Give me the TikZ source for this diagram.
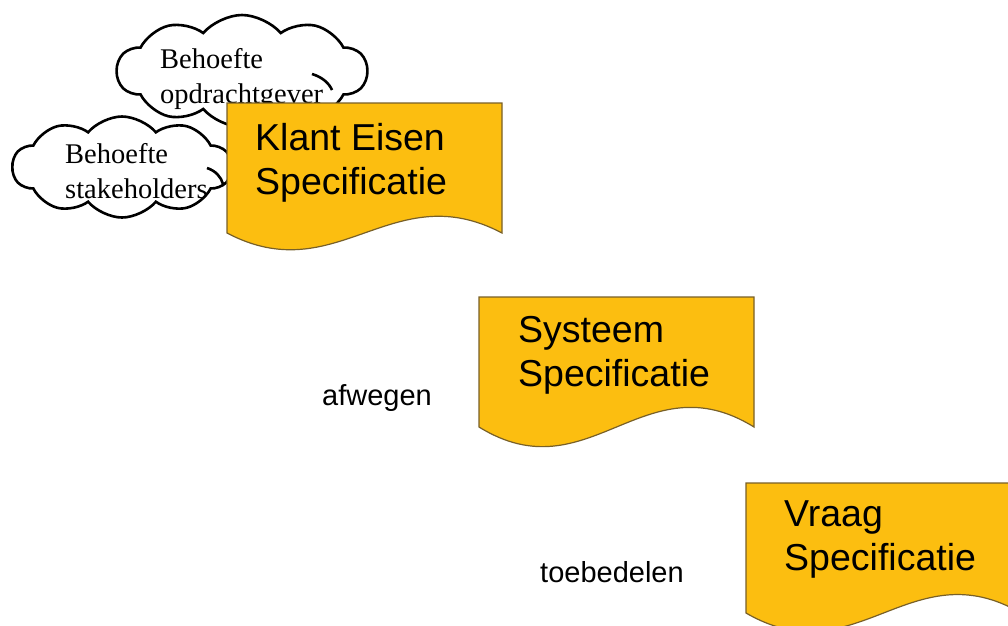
\documentclass[tikz,border=0pt]{standalone}
\usepackage{fontspec}
\usepackage{tikz}
\usetikzlibrary{shapes.symbols}
\newfontfamily\arialfont{Liberation Sans}
\newfontfamily\timesfont{Liberation Serif}
\definecolor{geel}{RGB}{252,190,16}
\definecolor{rand}{RGB}{120,96,40}

\begin{document}
\begin{tikzpicture}[x=1pt, y=-1pt,
	wolk/.style={cloud, cloud puffs=10, cloud puff arc=100, cloud ignores aspect, draw=black, line width=2.6pt, fill=white, inner sep=0pt},
	wolktekst/.style={font=\timesfont\fontsize{28.5}{35}\selectfont, align=left, inner sep=0pt, anchor=north west, text=black},
	blad/.style={draw=rand, line width=1.2pt, fill=geel},
	bladtekst/.style={font=\arialfont\fontsize{37.5}{44}\selectfont, align=left, inner sep=0pt, anchor=north west},
	woord/.style={font=\arialfont\fontsize{29}{35}\selectfont, inner sep=0pt, anchor=base west}]

	\def\w{275}
	\def\h{130}

	\clip (0,0) rectangle (1008,625);

	% wolken
	\node[wolk, minimum width=219pt, minimum height=101pt] (wolk2) at (122,167) {};
	\draw[line width=2.6pt] (207,168) .. controls (216,171) and (221,177) .. (223,184);
	\node[wolk, minimum width=250pt, minimum height=112pt] (wolk1) at (242,71) {};
	\draw[line width=2.6pt] (312,74) .. controls (322,77) and (329,83) .. (332,90);

	\node[wolktekst] (opdr) at (160,48) {Behoefte\\opdrachtgever};
	\node[wolktekst] (stake) at (65,143) {Behoefte\\stakeholders};

	% documenten
	\foreach \x/\y/\c in {227/103/58, 479/297/68, 746/483/64}
		\draw[blad] (\x,\y) -- (\x+\w,\y) -- (\x+\w,\y+\h)
			.. controls (\x+0.6*\w,\y+\h-\c) and (\x+0.4*\w,\y+\h+\c) .. (\x,\y+\h) -- cycle;

	\node[bladtekst] (klant) at (255,123) {Klant Eisen\\Specificatie};
	\node[bladtekst] (systeem) at (518,316) {Systeem\\Specificatie};
	\node[bladtekst] (vraag) at (784,500) {Vraag\\Specificatie};

	\node[woord] (afwegen) at (322,405) {afwegen};
	\node[woord] (toebedelen) at (540,582) {toebedelen};

\end{tikzpicture}
\end{document}
